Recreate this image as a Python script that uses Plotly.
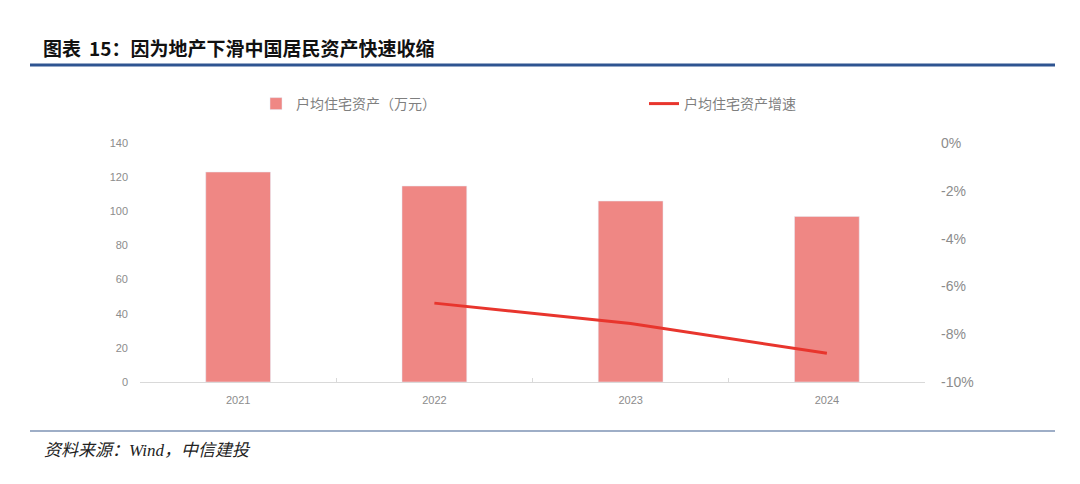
import plotly.graph_objects as go

years = ["2021", "2022", "2023", "2024"]
asset = [123, 114.8, 106, 97]
growth_years = ["2022", "2023", "2024"]
growth = [-0.067, -0.0755, -0.088]
y2_tickvals = [0, -0.02, -0.04, -0.06, -0.08, -0.10]
y2_ticktext = ["0%", "-2%", "-4%", "-6%", "-8%", "-10%"]

bar_name = "户均住宅资产（万元）"
line_name = "户均住宅资产增速"
title_text = "图表 15：因为地产下滑中国居民资产快速收缩"
source_text = "<i>资料来源：Wind，中信建投</i>"

# page body has an 8px margin; work in page coordinates and offset
OFF = 8
W, H = 1080 - 2 * OFF, 484 - 2 * OFF
L, R, T, B = 140 - OFF, 925 - OFF, 143 - OFF, 382 - OFF

def px(x):
    return (x - OFF - L) / (R - L)

def py(y):
    return (B - (y - OFF)) / (B - T)

fig = go.Figure()
fig.add_trace(go.Bar(x=years, y=asset, name=bar_name, marker_color="#EF8784",
                     width=0.33, yaxis="y"))
fig.add_trace(go.Scatter(x=growth_years, y=growth, name=line_name, mode="lines",
                         line=dict(color="#E8352D", width=3), yaxis="y2"))

tick_font = dict(family="Liberation Sans, Arial, sans-serif", color="#8c8c8c")
fig.update_layout(
    width=W, height=H,
    margin=dict(l=L, r=W - R, t=T, b=H - B),
    paper_bgcolor="white", plot_bgcolor="white",
    showlegend=True,
    legend=dict(orientation="h", x=px(256), xanchor="left", y=py(104), yanchor="middle",
                entrywidth=343, entrywidthmode="pixels",
                font=dict(family="Noto Sans CJK SC", size=14, color="#7f7f7f"),
                bgcolor="rgba(0,0,0,0)"),
    xaxis=dict(type="category", showline=True, linecolor="#d9d9d9", linewidth=1,
               ticks="inside", tickson="boundaries", ticklen=4, tickcolor="#d9d9d9",
               showgrid=False, tickfont=dict(size=11, **tick_font), ticklabelstandoff=8),
    yaxis=dict(range=[0, 140], dtick=20, showgrid=False, zeroline=False,
               tickfont=dict(size=11, **tick_font), ticklabelstandoff=11),
    yaxis2=dict(range=[-0.10, 0], tickvals=y2_tickvals, ticktext=y2_ticktext,
                overlaying="y", side="right", showgrid=False, zeroline=False,
                tickfont=dict(size=14, **tick_font), ticklabelstandoff=15),
    annotations=[
        dict(text="<b>" + title_text.replace("表 ", "表 \u2009") + "</b>", xref="paper", yref="paper",
             x=px(41), y=py(47), xanchor="left", yanchor="middle", showarrow=False,
             font=dict(family="Noto Sans CJK SC", size=19, color="#111111")),
        dict(text=source_text, xref="paper", yref="paper",
             x=px(42), y=py(450), xanchor="left", yanchor="middle", showarrow=False,
             font=dict(family="Liberation Serif, Noto Sans CJK SC", size=17, color="#222222")),
    ],
    shapes=[
        dict(type="line", xref="paper", yref="paper", x0=px(30), x1=px(1055),
             y0=py(65), y1=py(65), line=dict(color="#2E5491", width=3)),
        dict(type="line", xref="paper", yref="paper", x0=px(30), x1=px(1055),
             y0=py(431), y1=py(431), line=dict(color="#3F5F8F", width=1.2)),
    ],
)

fig.write_html("out.html")
